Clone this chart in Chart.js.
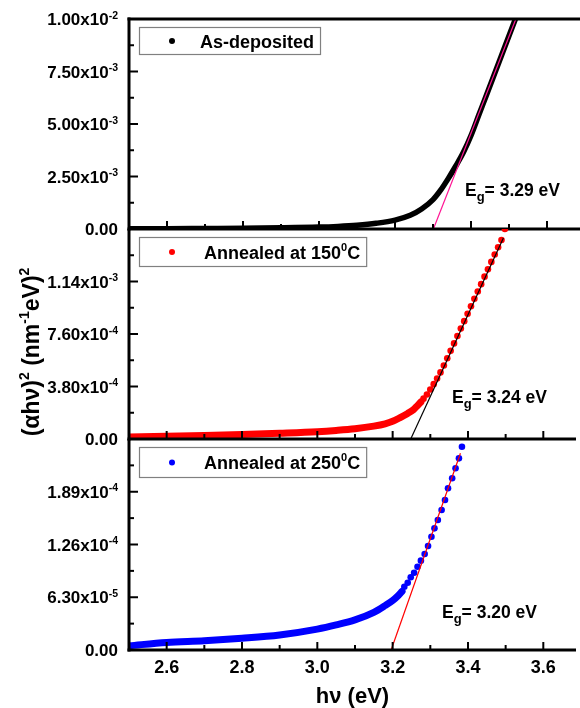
<!DOCTYPE html>
<html><head><meta charset="utf-8">
<script src="https://cdn.jsdelivr.net/npm/chart.js@4.4.1/dist/chart.umd.min.js"></script>
<style>
html,body{margin:0;padding:0;background:#fff;}
#wrap{position:relative;width:580px;height:708px;overflow:hidden;background:#fff;}
canvas{position:absolute;left:0;top:0;}
</style></head><body>
<div id="wrap">
<canvas id="c1" width="580" height="708"></canvas>
<canvas id="c2" width="580" height="708"></canvas>
<canvas id="c3" width="580" height="708"></canvas>
</div>
<script>
// ---------- data (photon energy in eV, (alpha h nu)^2 in (nm^-1 eV)^2) ----------
const asDepE = [2.50,2.60,2.70,2.80,2.90,3.00,3.05,3.10,3.15,3.20,3.24,3.27,3.30,3.32,3.34,3.36,3.38,3.40,3.42,3.44,3.46,3.48,3.50,3.52];
const asDepA = [1.0e-5,1.5e-5,2.5e-5,3.5e-5,5.5e-5,9.0e-5,1.25e-4,1.8e-4,2.7e-4,4.2e-4,6.5e-4,9.5e-4,1.40e-3,1.85e-3,2.40e-3,3.00e-3,3.65e-3,4.45e-3,5.40e-3,6.35e-3,7.30e-3,8.25e-3,9.20e-3,1.015e-2];
const asDepFitE = [3.301, 3.518];
const asDepFitA = [0, 1.0e-2];

const a150BandE = [2.50,2.60,2.70,2.80,2.90,3.00,3.05,3.10,3.15,3.18,3.20,3.22,3.24,3.255,3.266,3.275];
const a150BandA = [1.5e-5,2.0e-5,2.6e-5,3.3e-5,4.2e-5,5.3e-5,6.2e-5,7.4e-5,9.3e-5,1.10e-4,1.28e-4,1.55e-4,1.85e-4,2.12e-4,2.42e-4,2.68e-4];
const a150DotE = [3.282,3.291,3.300,3.309,3.318,3.327,3.336,3.345,3.354,3.363,3.372,3.381,3.390,3.399,3.408,3.417,3.426,3.435,3.444,3.453,3.462,3.471,3.480,3.489,3.498];
const a150DotA = [2.92e-4,3.22e-4,3.58e-4,3.97e-4,4.38e-4,4.82e-4,5.32e-4,5.85e-4,6.38e-4,6.92e-4,7.45e-4,7.99e-4,8.53e-4,9.07e-4,9.61e-4,1.015e-3,1.068e-3,1.121e-3,1.175e-3,1.228e-3,1.282e-3,1.335e-3,1.388e-3,1.440e-3,1.52e-3];
const a150FitE = [3.248, 3.494];
const a150FitA = [0, 1.455e-3];

const a250BandE = [2.50,2.60,2.70,2.80,2.90,3.00,3.05,3.10,3.15,3.18,3.20,3.215,3.225];
const a250BandA = [0.05e-4,0.09e-4,0.11e-4,0.14e-4,0.18e-4,0.25e-4,0.30e-4,0.36e-4,0.45e-4,0.53e-4,0.59e-4,0.65e-4,0.70e-4];
const a250DotE = [3.231,3.240,3.248,3.257,3.266,3.275,3.285,3.294,3.303,3.311,3.320,3.330,3.339,3.347,3.358,3.367,3.376,3.384];
const a250DotA = [0.756e-4,0.804e-4,0.868e-4,0.923e-4,0.995e-4,1.067e-4,1.147e-4,1.242e-4,1.353e-4,1.453e-4,1.553e-4,1.672e-4,1.791e-4,1.931e-4,2.051e-4,2.170e-4,2.289e-4,2.428e-4];
const a250FitE = [3.196, 3.380];
const a250FitA = [0, 2.35e-4];

// ---------- ticks ----------
const xMajor = [2.6,2.8,3.0,3.2,3.4,3.6];
const xMinor = [2.5,2.7,2.9,3.1,3.3,3.5];
const topTicks = [0, 2.5e-3, 5.0e-3, 7.5e-3, 1.0e-2];
const topLabels = ['0.00','2.50x10^-3','5.00x10^-3','7.50x10^-3','1.00x10^-2'];
const midTicks = [0, 3.8e-4, 7.6e-4, 1.14e-3, 1.52e-3];
const midLabels = ['0.00','3.80x10^-4','7.60x10^-4','1.14x10^-3',''];
const botTicks = [0, 6.3e-5, 1.26e-4, 1.89e-4, 2.52e-4];
const botLabels = ['0.00','6.30x10^-5','1.26x10^-4','1.89x10^-4',''];
const seriesNames = ['As-deposited','Annealed at 150^0C','Annealed at 250^0C'];
const gapLabels = ['3.29','3.24','3.20'];

const X_MIN = 2.5, X_MAX = 3.6868;
const FF = "'Liberation Sans', Arial, Helvetica, sans-serif";

function pts(xs, ys){ return xs.map((x,i)=>({x:x, y:ys[i]})); }

function drawSegs(ctx, segs, x, y, align){
  const ws = segs.map(s=>{ ctx.font = `bold ${s.size}px ${FF}`; return ctx.measureText(s.t).width; });
  const total = ws.reduce((a,b)=>a+b,0);
  let cx = align==='right' ? x-total : align==='center' ? x-total/2 : x;
  ctx.textAlign='left'; ctx.textBaseline='alphabetic';
  segs.forEach((s,i)=>{ ctx.font = `bold ${s.size}px ${FF}`; ctx.fillText(s.t, cx, y+(s.dy||0)); cx += ws[i]; });
  return total;
}
function supSegs(str, size, supSize, dy){
  const parts = str.split('^');
  const segs = [{t:parts[0], size:size}];
  if (parts[1] !== undefined){
    const m = parts[1].match(/^(-?\d+)(.*)$/);
    segs.push({t:m[1], size:supSize, dy:dy});
    if (m[2]) segs.push({t:m[2], size:size});
  }
  return segs;
}

function framePlugin(p){
  return {
    id:'frame'+p.id,
    afterDraw(chart){
      const ctx = chart.ctx;
      const {left,right,top,bottom} = chart.chartArea;
      const xs = chart.scales.x, ys = chart.scales.y;
      ctx.save();
      ctx.fillStyle = '#000'; ctx.strokeStyle = '#000';
      // frame
      ctx.lineWidth = 3;
      ctx.beginPath(); ctx.moveTo(left, top - (p.drawTop?1.5:0)); ctx.lineTo(left, bottom+1.5); ctx.stroke();
      ctx.beginPath(); ctx.moveTo(left-1.5, bottom); ctx.lineTo(right, bottom); ctx.stroke();
      if (p.drawTop){ ctx.beginPath(); ctx.moveTo(left-1.5, top); ctx.lineTo(right, top); ctx.stroke(); }
      // y ticks (inward)
      ctx.lineWidth = 2;
      p.ticks.forEach((v,i)=>{
        const py = ys.getPixelForValue(v);
        ctx.beginPath(); ctx.moveTo(left, py); ctx.lineTo(left+9, py); ctx.stroke();
        if (i < p.ticks.length-1){
          const pm = (py + ys.getPixelForValue(p.ticks[i+1]))/2;
          ctx.beginPath(); ctx.moveTo(left, pm); ctx.lineTo(left+5, pm); ctx.stroke();
        }
      });
      // x ticks (inward)
      xMajor.forEach(v=>{ const px = xs.getPixelForValue(v); ctx.beginPath(); ctx.moveTo(px, bottom); ctx.lineTo(px, bottom-8); ctx.stroke(); });
      xMinor.forEach(v=>{ const px = xs.getPixelForValue(v); ctx.beginPath(); ctx.moveTo(px, bottom); ctx.lineTo(px, bottom-5); ctx.stroke(); });
      // y tick labels
      p.ticks.forEach((v,i)=>{
        const lab = p.labels[i]; if (!lab) return;
        const py = ys.getPixelForValue(v);
        drawSegs(ctx, supSegs(lab, 17, 10.5, -6.5), 118, py+6, 'right');
      });
      // legend box
      const L = p.legend;
      ctx.font = `bold 18px ${FF}`;
      const segs = supSegs(L.text, 18, 11, -8);
      let tw = 0; segs.forEach(s=>{ ctx.font=`bold ${s.size}px ${FF}`; tw += ctx.measureText(s.t).width; });
      const bx = 139, by = L.y1, bw = (L.tx + tw + 6) - bx, bh = L.y2 - L.y1;
      ctx.fillStyle = '#fff'; ctx.fillRect(bx, by, bw, bh);
      ctx.strokeStyle = '#808080'; ctx.lineWidth = 1.2; ctx.strokeRect(bx+0.5, by+0.5, bw, bh);
      ctx.fillStyle = L.color; ctx.beginPath(); ctx.arc(172, (L.y1+L.y2)/2+0.5, 3, 0, Math.PI*2); ctx.fill();
      ctx.fillStyle = '#000';
      drawSegs(ctx, segs, L.tx, (L.y1+L.y2)/2+7, 'left');
      // band gap annotation
      drawSegs(ctx, [{t:'E',size:17.5},{t:'g',size:13,dy:5},{t:'= '+p.eg+' eV',size:17.5}], p.egX, p.egY, 'left');
      // y-axis title (once)
      if (p.yTitle){
        ctx.save(); ctx.translate(39, 352); ctx.rotate(-Math.PI/2);
        drawSegs(ctx, [{t:'(αhν)',size:23},{t:'2',size:14,dy:-10},{t:' (nm',size:23},{t:'-1',size:14,dy:-10},{t:'eV)',size:23},{t:'2',size:14,dy:-10}], 0, 0, 'center');
        ctx.restore();
      }
      ctx.restore();
    }
  };
}

function makeChart(p){
  return new Chart(document.getElementById(p.id), {
    type:'scatter',
    data:{datasets:p.datasets},
    options:{
      responsive:false, animation:false, devicePixelRatio:1, events:[],
      layout:{padding:{top:p.top, bottom:p.showX?0:708-p.bottom, left:0, right:0}},
      plugins:{legend:{display:false}, tooltip:{enabled:false}},
      scales:{
        x:{type:'linear', min:X_MIN, max:X_MAX,
           afterBuildTicks:s=>{ s.ticks = xMajor.map(v=>({value:v})); },
           afterFit:s=>{ s.height = p.showX?58:0; },
           ticks:{display:p.showX, padding:7, autoSkip:false, maxRotation:0, color:'#000',
                  font:{family:FF, size:18, weight:'bold'}, callback:v=>Number(v).toFixed(1)},
           grid:{display:false, drawTicks:false}, border:{display:false},
           title:{display:p.showX, text:'hν (eV)', color:'#000',
                  font:{family:FF, size:22, weight:'bold', lineHeight:1}, padding:{top:0,bottom:0}}},
        y:{type:'linear', min:0, max:p.yMax,
           afterBuildTicks:s=>{ s.ticks = p.ticks.map(v=>({value:v})); },
           afterFit:s=>{ s.width = 129; },
           ticks:{display:false}, grid:{display:false, drawTicks:false}, border:{display:false}}
      }
    },
    plugins:[framePlugin(p)]
  });
}

const RED = '#ff0000', BLUE = '#0000ff', PINK = '#ff1493';

makeChart({id:'c1', top:19, bottom:229, yMax:1.0e-2, ticks:topTicks, labels:topLabels, drawTop:true, showX:false,
  legend:{text:seriesNames[0], color:'#000', y1:27, y2:54, tx:200}, eg:gapLabels[0], egX:465, egY:196,
  datasets:[
    {data:pts(asDepFitE, asDepFitA), showLine:true, borderColor:PINK, borderWidth:1.2, pointRadius:0, clip:0},
    {data:pts(asDepE, asDepA), showLine:true, borderColor:'#000', borderWidth:5.5, pointRadius:0, cubicInterpolationMode:'monotone', borderCapStyle:'round', clip:0}
  ]});

makeChart({id:'c2', top:229, bottom:439, yMax:1.52e-3, ticks:midTicks, labels:midLabels, drawTop:false, showX:false, yTitle:true,
  legend:{text:seriesNames[1], color:RED, y1:237, y2:266, tx:204}, eg:gapLabels[1], egX:452, egY:403,
  datasets:[
    {data:pts(a150FitE, a150FitA), showLine:true, borderColor:'#000', borderWidth:1.2, pointRadius:0, clip:0},
    {data:pts(a150DotE, a150DotA), showLine:false, pointRadius:3.3, pointBorderWidth:0, backgroundColor:RED, borderColor:RED, clip:0},
    {data:pts(a150BandE, a150BandA), showLine:true, borderColor:RED, borderWidth:7, pointRadius:0, cubicInterpolationMode:'monotone', borderCapStyle:'round', clip:0}
  ]});

makeChart({id:'c3', top:439, bottom:650, yMax:2.52e-4, ticks:botTicks, labels:botLabels, drawTop:false, showX:true,
  legend:{text:seriesNames[2], color:BLUE, y1:447, y2:477, tx:204}, eg:gapLabels[2], egX:442, egY:618,
  datasets:[
    {data:pts(a250FitE, a250FitA), showLine:true, borderColor:RED, borderWidth:1.2, pointRadius:0, clip:0},
    {data:pts(a250DotE, a250DotA), showLine:false, pointRadius:3.3, pointBorderWidth:0, backgroundColor:BLUE, borderColor:BLUE, clip:0},
    {data:pts(a250BandE, a250BandA), showLine:true, borderColor:BLUE, borderWidth:7, pointRadius:0, cubicInterpolationMode:'monotone', borderCapStyle:'round', clip:0}
  ]});
</script>
</body></html>
